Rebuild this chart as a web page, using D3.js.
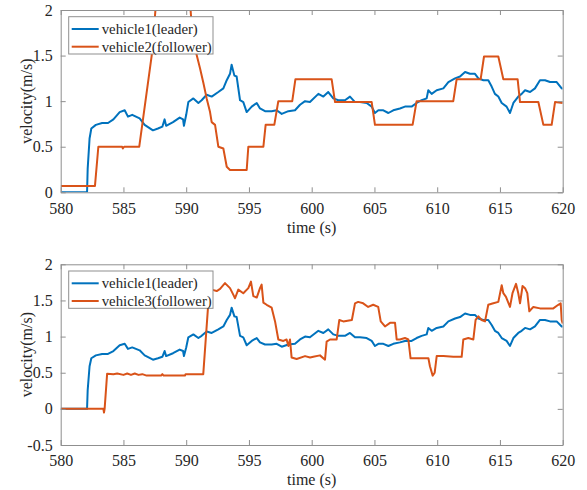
<!DOCTYPE html>
<html><head><meta charset="utf-8">
<script src="https://cdn.jsdelivr.net/npm/d3@7"></script>
<style>body{margin:0;background:#fff;} svg{display:block;}</style>
</head><body>
<svg id="c" width="587" height="490"></svg>
<script>
// ---- data ----
const leaderT = [580,582.1,582.15,582.3,582.44,582.8,583.3,583.77,584.2,584.7,585.1,585.36,585.7,586.29,586.69,587.35,587.75,588.1,588.28,588.4,588.95,589.48,589.75,589.82,590.0,590.17,590.57,590.97,591.23,591.63,592.03,592.56,592.96,593.23,593.49,593.62,593.84,594.02,594.29,594.55,594.82,595.22,595.62,595.88,596.28,596.81,597.21,597.61,598.14,598.67,599.07,599.47,599.86,600.53,600.93,601.32,601.72,602.12,602.65,603.05,603.45,603.85,604.38,604.78,605.04,605.31,605.71,606.11,606.5,607.03,607.43,607.96,608.36,608.76,609.16,609.29,609.56,609.96,610.49,610.89,611.42,611.82,612.22,612.61,613.01,613.28,613.68,614.07,614.34,614.6,614.87,615.14,615.53,615.8,616.07,616.46,616.73,617.0,617.4,617.79,618.19,618.59,618.99,619.52,619.92,620];
const leaderV = [0,0,0.26,0.59,0.70,0.74,0.76,0.76,0.80,0.88,0.90,0.83,0.85,0.81,0.74,0.68,0.70,0.72,0.80,0.73,0.77,0.82,0.80,0.73,0.85,0.99,1.03,0.98,1.01,1.07,1.05,1.10,1.14,1.23,1.30,1.40,1.28,1.27,1.01,0.99,0.88,0.94,0.98,0.92,0.89,0.89,0.90,0.86,0.89,0.90,0.96,1.00,0.99,1.08,1.05,1.10,1.03,1.01,1.01,1.05,0.99,0.99,0.98,0.94,0.87,0.90,0.90,0.87,0.90,0.92,0.94,0.94,0.98,1.01,1.03,1.12,1.08,1.12,1.14,1.21,1.25,1.27,1.32,1.30,1.30,1.25,1.23,1.23,1.16,1.08,1.05,0.98,0.94,0.87,0.98,1.05,1.08,1.12,1.10,1.14,1.23,1.23,1.21,1.21,1.14,1.14];

const f2T = [580,582.73,583.0,584.9,584.95,585.05,586.26,587.25,587.55,587.8,590.1,590.35,590.5,590.83,591.1,591.37,591.63,591.9,592.03,592.3,592.56,592.96,593.23,593.49,594.82,594.95,596.15,596.33,597.02,597.34,598.45,598.7,601.59,601.86,604.78,605.04,608.04,608.36,611.28,611.55,613.46,613.73,614.87,615.27,616.41,616.6,618.06,618.46,619.12,619.39,620];
const f2V = [0.07,0.07,0.50,0.50,0.48,0.50,0.50,1.50,2.0,2.2,2.2,2.0,1.7,1.51,1.36,1.20,1.03,0.88,0.77,0.74,0.50,0.48,0.28,0.245,0.245,0.50,0.50,0.74,0.74,1.0,1.0,1.24,1.24,0.99,0.99,0.74,0.74,1.0,1.0,1.24,1.24,1.49,1.49,1.24,1.24,0.99,0.99,0.74,0.74,0.99,0.98];

const f3T = [580,583.4,583.45,583.5,583.7,584.2,584.5,585.0,585.3,585.6,585.9,586.2,586.5,586.85,588.0,588.1,588.2,589.9,589.95,591.36,591.76,592.03,592.43,592.7,593.09,593.49,593.78,593.89,594.15,594.55,594.95,595.16,595.35,595.62,595.88,596.01,596.15,596.41,596.81,597.08,597.34,597.74,598.0,598.14,598.27,598.4,598.8,599.47,599.87,600.13,600.66,601.06,601.19,601.46,601.99,602.2,602.52,603.2,603.45,603.7,604.1,604.5,604.9,605.3,605.5,605.84,606.24,606.64,606.77,607.03,607.43,607.7,607.88,608.36,608.9,609.3,609.42,609.64,609.8,609.96,610.49,611.28,611.95,612.08,612.48,612.88,613.06,613.28,613.54,613.81,614.07,614.47,614.87,615.14,615.27,615.48,615.8,616.0,616.28,616.46,616.6,616.8,617.0,617.18,617.34,617.66,618.19,618.72,619.25,619.65,619.84,619.92,620];
const f3V = [0,0,-0.05,0,0.487,0.48,0.49,0.47,0.49,0.47,0.49,0.47,0.48,0.46,0.46,0.48,0.46,0.46,0.48,0.48,1.46,1.65,1.63,1.66,1.74,1.67,1.57,1.53,1.65,1.60,1.67,1.76,1.56,1.54,1.67,1.72,1.47,1.44,1.40,1.21,0.96,0.94,0.96,0.87,0.96,0.71,0.69,0.73,0.71,0.72,0.74,0.68,0.93,0.96,0.96,1.23,1.21,1.23,1.46,1.48,1.46,1.41,1.44,1.41,1.21,1.14,1.19,1.19,0.96,0.96,0.98,0.96,0.70,0.70,0.70,0.70,0.59,0.46,0.50,0.73,0.73,0.72,0.72,0.96,0.98,0.96,1.23,1.28,1.23,1.21,1.44,1.46,1.48,1.71,1.60,1.55,1.41,1.60,1.73,1.60,1.46,1.70,1.67,1.60,1.35,1.41,1.39,1.39,1.39,1.44,1.46,1.23,1.18];

const xTicks = [580,585,590,595,600,605,610,615,620];
const yTicksTop = [0,0.5,1,1.5,2];
const yTicksBot = [-0.5,0,0.5,1,1.5,2];
const legendTop = ["vehicle1(leader)","vehicle2(follower)"];
const legendBot = ["vehicle1(leader)","vehicle3(follower)"];

// ---- drawing ----
const svg = d3.select("#c");
const BLUE = "#0072BD", ORANGE = "#D95319";
const FONT = '"Liberation Serif"';
const axisCol = "#8f8f8f", textCol = "#262626";

function panel(id, top, bottom, yDomain, yTicks, fT, fV, legendLabels, xLabelY) {
  const L = 60.7, R = 562.7;
  const x = d3.scaleLinear().domain([580,620]).range([L,R]);
  const y = d3.scaleLinear().domain(yDomain).range([bottom, top]);
  const g = svg.append("g");
  const clipId = "clip"+id;
  g.append("clipPath").attr("id", clipId).append("rect")
    .attr("x", L).attr("y", top).attr("width", R-L).attr("height", bottom-top);

  const line = d3.line().x(d=>x(d[0])).y(d=>y(d[1]));
  const lead = leaderT.map((t,i)=>[t, leaderV[i]]);
  const fol = fT.map((t,i)=>[t, fV[i]]);
  const lg = g.append("g").attr("clip-path", `url(#${clipId})`);
  lg.append("path").datum(lead).attr("d", line).attr("fill","none")
    .attr("stroke", BLUE).attr("stroke-width", 2).attr("stroke-linejoin","round");
  lg.append("path").datum(fol).attr("d", line).attr("fill","none")
    .attr("stroke", ORANGE).attr("stroke-width", 2).attr("stroke-linejoin","round");

  const ax = d3.axisBottom(x).tickValues(xTicks).tickSizeInner(-5).tickSizeOuter(0).tickPadding(10).tickFormat(d3.format("d"));
  const axT = d3.axisTop(x).tickValues(xTicks).tickSizeInner(-5).tickSizeOuter(0).tickFormat("");
  const ay = d3.axisLeft(y).tickValues(yTicks).tickSizeInner(-5).tickSizeOuter(0).tickPadding(8).tickFormat(d=>String(d));
  const ayR = d3.axisRight(y).tickValues(yTicks).tickSizeInner(-5).tickSizeOuter(0).tickFormat("");
  const style = sel => {
    sel.attr("font-family", null).attr("font-size", null);
    sel.select(".domain").attr("stroke", axisCol);
    sel.selectAll(".tick line").attr("stroke", axisCol);
    sel.selectAll("text").style("font-family", FONT).style("font-size", "16px").attr("fill", textCol);
  };
  g.append("g").attr("transform",`translate(0,${bottom})`).call(ax).call(style);
  g.append("g").attr("transform",`translate(0,${top})`).call(axT).call(style);
  g.append("g").attr("transform",`translate(${L},0)`).call(ay).call(style);
  g.append("g").attr("transform",`translate(${R},0)`).call(ayR).call(style);

  g.append("text").attr("x", (L+R)/2).attr("y", xLabelY).attr("text-anchor","middle")
    .style("font-family", FONT).style("font-size", "16px").attr("fill", textCol).text("time (s)");
  g.append("text").attr("transform", `translate(27,${(top+bottom)/2}) rotate(-90)`)
    .attr("text-anchor","middle").attr("dy","0.32em")
    .style("font-family", FONT).style("font-size", "16px").attr("fill", textCol).text("velocity(m/s)");

  const lx = 68.7, ly = top + 6.7, lw = 144.3, lh = 37.3;
  const leg = g.append("g");
  leg.append("rect").attr("x", lx).attr("y", ly).attr("width", lw).attr("height", lh)
    .attr("fill","#fff").attr("stroke", "#8f8f8f").attr("stroke-width", 1);
  [BLUE, ORANGE].forEach((c,i)=>{
    const cy = ly + 12.3 + i*17.7;
    leg.append("line").attr("x1", lx+3).attr("x2", lx+30).attr("y1", cy).attr("y2", cy)
      .attr("stroke", c).attr("stroke-width", 2);
    leg.append("text").attr("x", lx+33).attr("y", cy).attr("dy","0.35em")
      .style("font-family", FONT).style("font-size", "14.8px").attr("fill", textCol).text(legendLabels[i]);
  });
}

panel("a", 10, 192.3, [0,2], yTicksTop, f2T, f2V, legendTop, 233);
panel("b", 264.3, 445, [-0.5,2], yTicksBot, f3T, f3V, legendBot, 485);
</script>
</body></html>
